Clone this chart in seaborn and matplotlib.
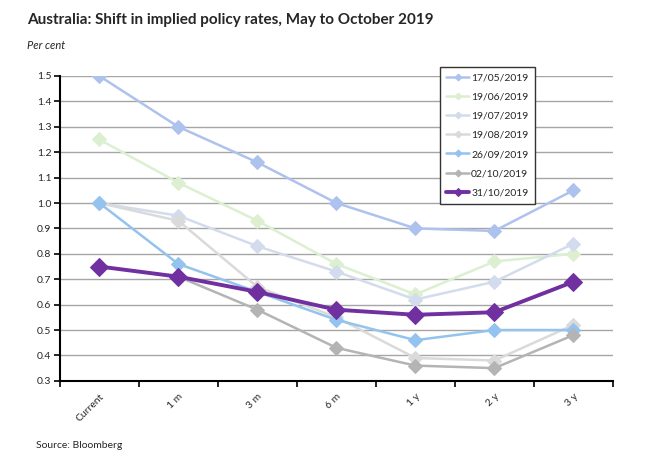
import numpy as np
import pandas as pd
import matplotlib.pyplot as plt
import seaborn as sns
from matplotlib.ticker import FixedLocator, MultipleLocator

sns.set_theme(style="white")
plt.rcParams['font.family'] = ['Lato', 'DejaVu Sans']

# ---- data (per cent) ----
plazos = ['Current', '1 m', '3 m', '6 m', '1 y', '2 y', '3 y']
fechas = ['17/05/2019', '19/06/2019', '19/07/2019', '19/08/2019',
          '26/09/2019', '02/10/2019', '31/10/2019']
tasa_1705 = [1.50, 1.30, 1.16, 1.00, 0.90, 0.89, 1.05]
tasa_1906 = [1.25, 1.08, 0.93, 0.76, 0.64, 0.77, 0.80]
tasa_1907 = [1.00, 0.95, 0.83, 0.73, 0.62, 0.69, 0.84]
tasa_1908 = [1.00, 0.93, 0.67, 0.55, 0.39, 0.38, 0.52]
tasa_2609 = [1.00, 0.76, 0.65, 0.54, 0.46, 0.50, 0.50]
tasa_0210 = [0.75, 0.71, 0.58, 0.43, 0.36, 0.35, 0.48]
tasa_3110 = [0.75, 0.71, 0.65, 0.58, 0.56, 0.57, 0.69]

series = [tasa_1705, tasa_1906, tasa_1907, tasa_1908, tasa_2609, tasa_0210, tasa_3110]
colores = ['#AEC2EE', '#DCEFD0', '#D3DCEC', '#DADADA', '#93C3EE', '#B4B4B4', '#7030A0']

df = pd.DataFrame({f: s for f, s in zip(fechas, series)}, index=plazos)
df = df.reset_index().melt(id_vars='index', var_name='Fecha', value_name='Tasa')
df = df.rename(columns={'index': 'Plazo'})

fig = plt.figure(figsize=(6.5, 4.55), dpi=100)
ax = fig.add_axes([0.092, 0.163, 0.851, 0.67])

for i, (f, c) in enumerate(zip(fechas, colores)):
    sub = df[df['Fecha'] == f]
    principal = f == '31/10/2019'
    sns.lineplot(data=sub, x='Plazo', y='Tasa', ax=ax, color=c, marker='D',
                 markersize=9 if principal else 7, markeredgecolor=c,
                 linewidth=2.8 if principal else 1.8, label=f,
                 zorder=10 if principal else 3 + i, sort=False)

ax.set_xlim(-0.5, 6.5)
ax.set_ylim(0.3, 1.5)
ax.yaxis.set_major_locator(MultipleLocator(0.1))
ax.yaxis.set_major_formatter(plt.FuncFormatter(lambda v, p: f'{v:.1f}'))
ax.grid(axis='y', color='#A6A6A6', linewidth=1)
ax.set_axisbelow(True)

ax.set_xticks(range(len(plazos)))
ax.set_xticklabels(plazos, rotation=45, ha='right', rotation_mode='anchor', fontsize=7.5)
ax.xaxis.set_minor_locator(FixedLocator(np.arange(-0.5, 7, 1)))
ax.tick_params(axis='x', which='major', length=0, pad=8)
ax.tick_params(axis='x', which='minor', length=4, width=1.2, color='black', direction='out', bottom=True)
ax.tick_params(axis='y', length=4, width=1.2, color='black', direction='out', left=True, labelsize=7.5, pad=2)

for lado in ['top', 'right']:
    ax.spines[lado].set_visible(False)
for lado in ['left', 'bottom']:
    ax.spines[lado].set_color('black')
    ax.spines[lado].set_linewidth(1.5)

ax.set_xlabel('')
ax.set_ylabel('')

leg = ax.legend(loc='upper left', bbox_to_anchor=(0.687, 1.03), borderaxespad=0,
                fontsize=7.5, frameon=True, fancybox=False, edgecolor='#333333',
                framealpha=1, handlelength=2.2, labelspacing=0.95, borderpad=0.6,
                handletextpad=0.2, markerscale=0.5)
leg.get_frame().set_linewidth(1)
leg.set_zorder(20)

fig.text(0.042, 0.955, 'Australia: Shift in implied policy rates, May to October 2019',
         fontsize=11, fontweight='bold', ha='left', va='center')
fig.text(0.042, 0.9, 'Per cent', fontsize=8, style='italic', ha='left', va='center')
fig.text(0.055, 0.02, 'Source: Bloomberg', fontsize=7.5, ha='left', va='center')

fig.savefig('out.png', dpi=100)
